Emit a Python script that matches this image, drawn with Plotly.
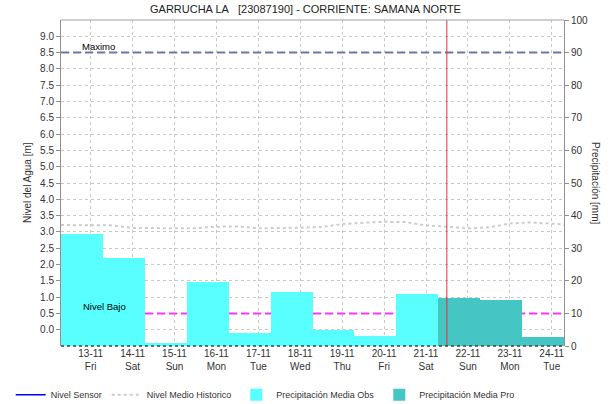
import plotly.graph_objects as go

title_text = "GARRUCHA LA&nbsp;&nbsp;&nbsp;[23087190] - CORRIENTE: SAMANA NORTE"

# Days (tick dates) and labels
tick_dates = ["2015-11-13", "2015-11-14", "2015-11-15", "2015-11-16", "2015-11-17", "2015-11-18",
              "2015-11-19", "2015-11-20", "2015-11-21", "2015-11-22", "2015-11-23", "2015-11-24"]
tick_labels = ["13-11<br>Fri", "14-11<br>Sat", "15-11<br>Sun", "16-11<br>Mon", "17-11<br>Tue", "18-11<br>Wed",
               "19-11<br>Thu", "20-11<br>Fri", "21-11<br>Sat", "22-11<br>Sun", "23-11<br>Mon", "24-11<br>Tue"]

# Daily precipitation (mm), 07:00-07:00 accumulation ending on the given date
obs_dates = ["2015-11-13", "2015-11-14", "2015-11-15", "2015-11-16", "2015-11-17", "2015-11-18",
             "2015-11-19", "2015-11-20", "2015-11-21"]
obs_precip = [34.3, 26.9, 1.0, 19.6, 4.1, 16.5, 5.0, 3.2, 16.1]
pro_dates = ["2015-11-22", "2015-11-23", "2015-11-24"]
pro_precip = [14.7, 14.2, 2.9]

# Historic mean level (m)
hist_times = ["2015-11-12 07:00", "2015-11-13 00:00", "2015-11-13 12:00", "2015-11-14 00:00", "2015-11-14 12:00",
              "2015-11-15 00:00", "2015-11-15 12:00", "2015-11-16 00:00", "2015-11-16 12:00",
              "2015-11-17 00:00", "2015-11-17 12:00", "2015-11-18 00:00", "2015-11-18 12:00",
              "2015-11-19 00:00", "2015-11-19 12:00", "2015-11-20 00:00", "2015-11-20 12:00",
              "2015-11-21 00:00", "2015-11-21 12:00", "2015-11-22 00:00", "2015-11-22 12:00",
              "2015-11-23 00:00", "2015-11-23 12:00", "2015-11-24 00:00", "2015-11-24 07:00"]
hist_level = [3.21, 3.21, 3.20, 3.12, 3.11, 3.11, 3.11, 3.16, 3.17, 3.11, 3.11, 3.13, 3.15,
              3.24, 3.28, 3.31, 3.30, 3.20, 3.16, 3.11, 3.14, 3.26, 3.29, 3.25, 3.23]

# Sensor level (no data)
sensor_times = [None]
sensor_level = [None]

nivel_maximo = 8.5
nivel_bajo = 0.5
now_time = "2015-11-21 11:55"
x_start = "2015-11-12 07:00"
x_end = "2015-11-24 07:00"

DAY_MS = 86400000
BAR_OFFSET_MS = -17 * 3600000

FONT = "Liberation Sans, Arial, sans-serif"

fig = go.Figure()

fig.add_trace(go.Scatter(x=sensor_times, y=sensor_level, mode="lines", name="Nivel Sensor",
                         line=dict(color="#0000FF", width=1.5)))
fig.add_trace(go.Scatter(x=hist_times, y=hist_level, mode="lines", name="Nivel Medio Historico",
                         line=dict(color="#CCCCCC", width=2, dash="dot")))
fig.add_trace(go.Bar(x=obs_dates, y=obs_precip, yaxis="y2", name="Precipitación Media Obs",
                     marker=dict(color="#59FFFF", line=dict(width=0)),
                     width=DAY_MS, offset=BAR_OFFSET_MS))
fig.add_trace(go.Bar(x=pro_dates, y=pro_precip, yaxis="y2", name="Precipitación Media Pro",
                     marker=dict(color="#46C5C5", line=dict(width=0)),
                     width=DAY_MS, offset=BAR_OFFSET_MS))

fig.add_trace(go.Scatter(x=[x_start, x_end], y=[nivel_maximo, nivel_maximo], mode="lines",
                         showlegend=False, hoverinfo="skip",
                         line=dict(color="#6B78A8", width=2, dash="8px,4px")))
fig.add_trace(go.Scatter(x=[x_start, x_end], y=[nivel_bajo, nivel_bajo], mode="lines",
                         showlegend=False, hoverinfo="skip",
                         line=dict(color="#FF33FF", width=2, dash="8px,4px")))

fig.add_shape(type="line", xref="x", yref="paper", x0=now_time, x1=now_time, y0=0, y1=1,
              line=dict(color="#E03030", width=1))
# frame
fig.add_shape(type="line", xref="paper", yref="paper", x0=0, x1=1, y0=1, y1=1,
              line=dict(color="#A0A0A0", width=1))
fig.add_shape(type="line", xref="paper", yref="paper", x0=0, x1=1, y0=0, y1=0,
              line=dict(color="#404040", width=1.5, dash="dot"))

fig.add_annotation(x="2015-11-12 18:00", y=nivel_maximo, xref="x", yref="y", text="Maximo",
                   showarrow=False, xanchor="left", yanchor="bottom", yshift=-1,
                   font=dict(family=FONT, size=9.5, color="#000"))
fig.add_annotation(x="2015-11-12 18:30", y=nivel_bajo, xref="x", yref="y", text="Nivel Bajo",
                   showarrow=False, xanchor="left", yanchor="bottom", yshift=-1,
                   font=dict(family=FONT, size=9.5, color="#000"))

fig.add_annotation(x=300/616, y=1, xref="paper", yref="paper", yshift=3, text=title_text,
                   showarrow=False, xanchor="center", yanchor="bottom",
                   font=dict(family=FONT, size=11, color="#222"))
fig.add_annotation(x=0, y=0.5, xref="paper", yref="paper", xshift=-34, text="Nivel del Agua [m]",
                   textangle=-90, showarrow=False, xanchor="center", yanchor="middle",
                   font=dict(family=FONT, size=10, color="#333"))
fig.add_annotation(x=1, y=0.5, xref="paper", yref="paper", xshift=32, text="Precipitación [mm]",
                   textangle=90, showarrow=False, xanchor="center", yanchor="middle",
                   font=dict(family=FONT, size=10, color="#333"))

fig.update_layout(
    width=616, height=404,
    margin=dict(l=61, r=52, t=20, b=58, autoexpand=False),
    plot_bgcolor="white", paper_bgcolor="white",
    font=dict(family=FONT, size=10, color="#333"),
    barmode="overlay", bargap=0,
    showlegend=True,
    legend=dict(orientation="h", x=-0.1, xanchor="left", y=-0.105, yanchor="top",
                traceorder="normal", font=dict(family=FONT, size=9, color="#333"),
                itemwidth=30, tracegroupgap=0),
    xaxis=dict(type="date", range=[x_start, x_end], tickvals=tick_dates, ticktext=tick_labels,
               showgrid=True, gridcolor="#C8C8C8", griddash="dot", gridwidth=1,
               showline=False, ticks="", zeroline=False, tickfont=dict(size=10)),
    yaxis=dict(range=[-0.5, 9.5], tickvals=[i * 0.5 for i in range(19)], tickformat=".1f",
               showgrid=True, gridcolor="#C8C8C8", griddash="dot", gridwidth=1,
               showline=True, linecolor="#909090", linewidth=1, ticks="outside", ticklen=4,
               tickcolor="#909090", zeroline=False),
    yaxis2=dict(range=[0, 100], overlaying="y", side="right", tickvals=list(range(0, 101, 10)),
                showgrid=False, showline=True, linecolor="#909090", linewidth=1,
                ticks="outside", ticklen=4, tickcolor="#909090", zeroline=False),
)

fig.write_html("out.html", config={"displayModeBar": False},
               post_script="document.body.style.margin='0';")
